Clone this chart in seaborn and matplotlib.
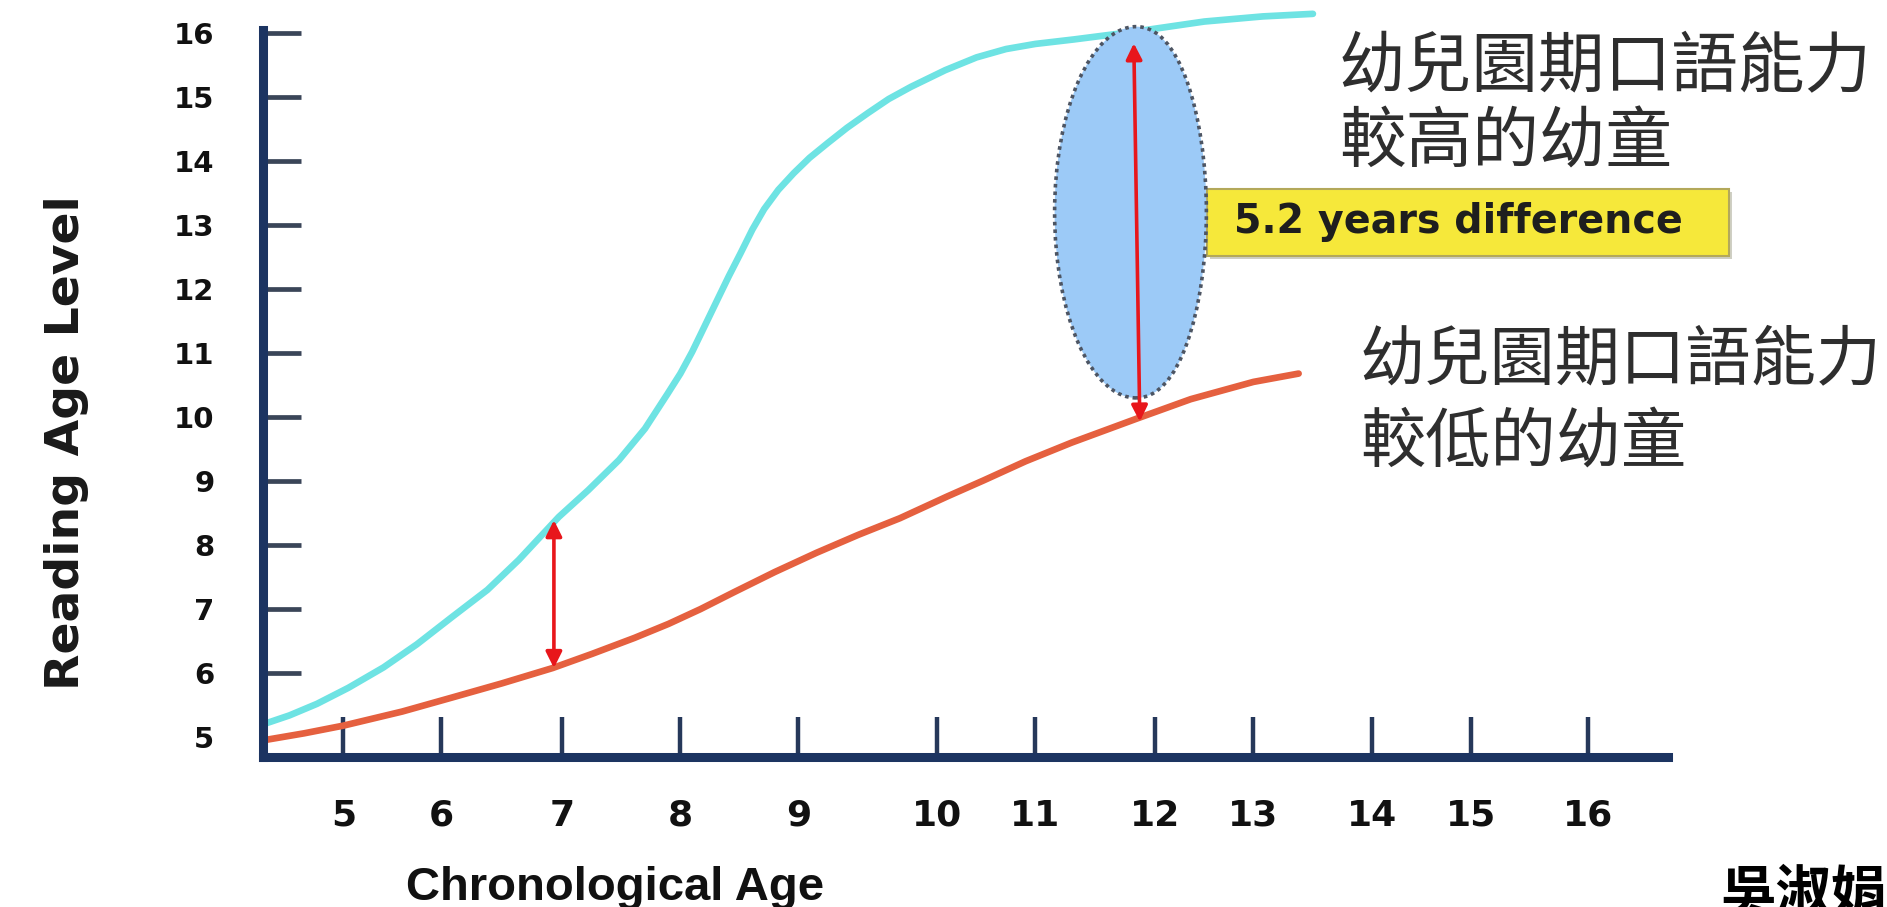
import numpy as np
import matplotlib
matplotlib.use("Agg")
import matplotlib.pyplot as plt
from matplotlib.patches import Ellipse, Rectangle
import seaborn as sns

# x axis: chronological age ticks and where each one sits along the drawn axis
age_ticks = [5, 6, 7, 8, 9, 10, 11, 12, 13, 14, 15, 16]
age_tick_spacing = [0, 0.98, 2.19, 3.37, 4.55, 5.94, 6.92, 8.12, 9.10, 10.29, 11.28, 12.45]
reading_ticks = [5, 6, 7, 8, 9, 10, 11, 12, 13, 14, 15, 16]

# higher oral language ability in kindergarten (cyan)
high_age = [4.18, 4.45, 4.73, 5.05, 5.41, 5.75, 6.09, 6.38, 6.64, 6.97, 7.22, 7.48, 7.70,
            7.89, 8.00, 8.10, 8.20, 8.31, 8.41, 8.51, 8.61, 8.71, 8.83, 8.96, 9.08, 9.21,
            9.35, 9.50, 9.65, 9.81, 10.08, 10.40, 10.70, 11.00, 11.32, 11.82, 12.5, 13.08, 13.5]
high_reading = [5.20, 5.34, 5.52, 5.77, 6.09, 6.45, 6.88, 7.30, 7.77, 8.44, 8.86, 9.33, 9.82,
                10.36, 10.68, 11.02, 11.40, 11.82, 12.20, 12.56, 12.93, 13.25, 13.55, 13.81,
                14.05, 14.28, 14.52, 14.75, 14.97, 15.16, 15.42, 15.62, 15.75, 15.83, 15.90,
                16.02, 16.18, 16.26, 16.30]

# lower oral language ability in kindergarten (red)
low_age = [4.18, 4.6, 5.0, 5.6, 6.09, 6.5, 6.92, 7.25, 7.61, 7.9, 8.17, 8.46, 8.8, 9.13,
           9.43, 9.73, 10.1, 10.47, 10.9, 11.30, 11.85, 12.36, 13.0, 13.38]
low_reading = [4.95, 5.06, 5.18, 5.40, 5.62, 5.84, 6.08, 6.30, 6.55, 6.77, 7.00, 7.27, 7.58,
               7.88, 8.16, 8.42, 8.76, 9.01, 9.31, 9.60, 9.98, 10.28, 10.55, 10.68]

# gap arrows: (age at bottom, reading at bottom, age at top, reading at top)
gap_small = [6.93, 6.08, 6.93, 8.39]
gap_big = [11.87, 9.93, 11.82, 15.84]

# highlighted gap: centre age, centre reading, width, height
gap_oval = [11.84, 13.20, 1.36, 5.80]

gap_text = "5.2 years difference"
high_label = ["幼兒園期口語能力", "較高的幼童"]
low_label = ["幼兒園期口語能力", "較低的幼童"]
credit = "吳淑娟"

sns.set_theme(style="white")
plt.rcParams["font.family"] = ["DejaVu Sans", "Noto Sans CJK TC"]

navy = "#1c3461"
cyan = "#6ee3e3"
red_line = "#e5603f"
arrow_red = "#e8161b"

ext_age = np.r_[-100, age_ticks, 100]
ext_pos = np.r_[-105 * 0.98, age_tick_spacing, 12.45 + 84 * 1.17]


def forward(a):
    return np.interp(a, ext_age, ext_pos)


def inverse(p):
    return np.interp(p, ext_pos, ext_age)


fig = plt.figure(figsize=(18.87, 9.07), dpi=100)
ax = fig.add_axes([263 / 1887, 1 - 757 / 907, (1668 - 263) / 1887, (757 - 10) / 907])
ax.patch.set_visible(False)
ax.set_xscale("function", functions=(forward, inverse))

sns.lineplot(x=high_age, y=high_reading, ax=ax, color=cyan, linewidth=4.8, zorder=2)
sns.lineplot(x=low_age, y=low_reading, ax=ax, color=red_line, linewidth=4.8, zorder=2)
for line in ax.lines:
    line.set_solid_joinstyle("round")

ax.set_xlim(4.18, 16.68)
ax.set_ylim(4.69, 16.36)

for side in ["top", "right"]:
    ax.spines[side].set_visible(False)
for side in ["left", "bottom"]:
    ax.spines[side].set_color(navy)
    ax.spines[side].set_linewidth(6.5)
    ax.spines[side].set_capstyle("projecting")
ax.spines["left"].set_bounds(4.69, 16.05)

ax.set_xticks(age_ticks)
ax.set_xticklabels([str(a) for a in age_ticks])
ax.set_yticks(reading_ticks)
ax.set_yticklabels([str(r) for r in reading_ticks])
ax.tick_params(left=True, bottom=True)
ax.yaxis.get_major_ticks()[0].tick1line.set_visible(False)
ax.tick_params(axis="x", direction="in", length=29, width=3.2, color="#26385a", pad=30,
               labelsize=26, labelcolor="#111111")
ax.tick_params(axis="y", direction="in", length=27, width=3.4, color="#3a4558", pad=35,
               labelsize=21, labelcolor="#111111")
for lab in ax.get_xticklabels() + ax.get_yticklabels():
    lab.set_fontweight("bold")
    lab.set_family("DejaVu Sans")
ax.set_xlabel("")
ax.set_ylabel("")
ax.grid(False)

# highlighted gap at age 12
oval = Ellipse((gap_oval[0], gap_oval[1]), gap_oval[2], gap_oval[3],
               facecolor="#9ccaf7", edgecolor="#4d5563", linewidth=2.6,
               linestyle=(0, (1, 1.1)), zorder=3)
ax.add_patch(oval)

for g in [gap_small, gap_big]:
    ax.annotate("", xy=(g[2], g[3]), xytext=(g[0], g[1]),
                arrowprops=dict(arrowstyle="<|-|>", color=arrow_red, lw=2.6,
                                mutation_scale=24, shrinkA=0, shrinkB=0),
                zorder=4)

# yellow call-out box
shadow = Rectangle((1210 / 1887, 1 - 259 / 907), 522 / 1887, 67 / 907,
                   transform=fig.transFigure, facecolor="#cfcfc4", edgecolor="none",
                   zorder=1, clip_on=False)
box = Rectangle((1207 / 1887, 1 - 256 / 907), 522 / 1887, 67 / 907,
                transform=fig.transFigure, facecolor="#f6e83a", edgecolor="#b3a85a",
                linewidth=1.5, zorder=1.5, clip_on=False)
ax.add_patch(shadow)
ax.add_patch(box)
fig.text(1458 / 1887, 1 - 222 / 907, gap_text, ha="center", va="center",
         fontsize=28.5, fontweight="bold", color="#1e1e1e", family="DejaVu Sans", zorder=5)

# group labels
cjk = ["Noto Sans CJK TC", "DejaVu Sans"]
fig.text(1339 / 1887, 1 - 69 / 907, high_label[0], ha="left", va="center",
         fontsize=48, fontweight="light", color="#2e2e2e", family=cjk)
fig.text(1339 / 1887, 1 - 144 / 907, high_label[1], ha="left", va="center",
         fontsize=48, fontweight="light", color="#2e2e2e", family=cjk)
fig.text(1360 / 1887, 1 - 361 / 907, low_label[0], ha="left", va="center",
         fontsize=47, fontweight="light", color="#2e2e2e", family=cjk)
fig.text(1360 / 1887, 1 - 443 / 907, low_label[1], ha="left", va="center",
         fontsize=47, fontweight="light", color="#2e2e2e", family=cjk)

# axis titles
fig.text(615 / 1887, 1 - 900 / 907, "Chronological Age", ha="center", va="baseline",
         fontsize=34, fontweight="bold", color="#111111", family="Liberation Sans")
fig.text(67 / 1887, 1 - 443 / 907, "Reading Age Level", ha="center", va="center",
         rotation=90, fontsize=34, fontweight="bold", color="#1a1a1a",
         family="DejaVu Sans")

fig.text(1720 / 1887, 1 - 911 / 907, credit, ha="left", va="baseline",
         fontsize=40, fontweight="bold", color="#000000", family=cjk)

fig.savefig("out.png", dpi=100, facecolor="white")
